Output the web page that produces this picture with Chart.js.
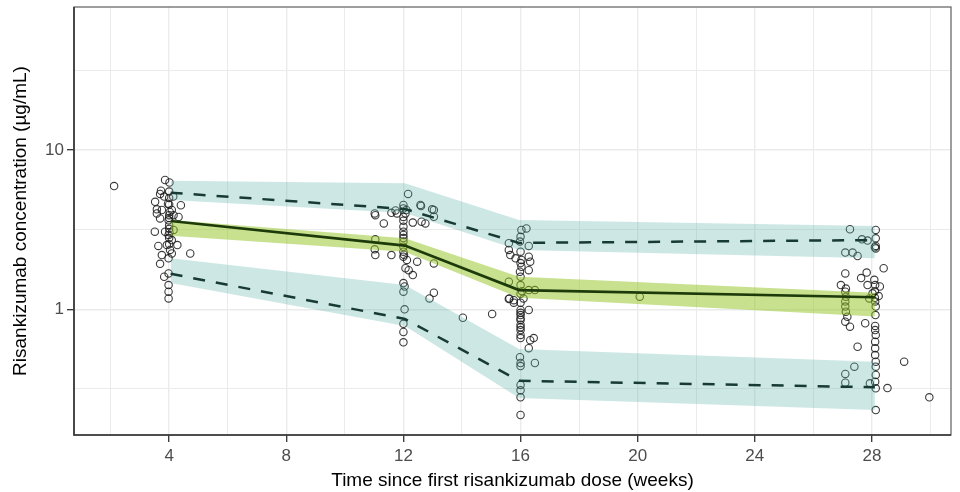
<!DOCTYPE html>
<html><head><meta charset="utf-8">
<script src="https://cdn.jsdelivr.net/npm/chart.js@4.4.1/dist/chart.umd.min.js"></script>
<style>html,body{margin:0;padding:0;background:#fff}canvas{display:block}</style>
</head><body>
<canvas id="c" width="960" height="492"></canvas>
<script>
// ---- Data ----
const binTimes = [4.05, 12.05, 15.95, 28.1];
// 95th percentile: prediction interval band + dashed line
const p95Hi   = [6.42, 6.18, 3.64, 3.33];
const p95Lo   = [4.86, 4.02, 2.36, 2.09];
const p95Line = [5.39, 4.26, 2.61, 2.72];
// median
const medHi   = [3.64, 2.79, 1.60, 1.27];
const medLo   = [2.89, 2.30, 1.18, 0.90];
const medLine = [3.58, 2.51, 1.32, 1.19];
// 5th percentile
const p05Hi   = [2.09, 1.42, 0.563, 0.469];
const p05Lo   = [1.46, 0.786, 0.277, 0.233];
const p05Line = [1.67, 0.87, 0.356, 0.324];

const xTickLabels = [4, 8, 12, 16, 20, 24, 28];
const xMinorGrid  = [2, 6, 10, 14, 18, 22, 26, 30];
const yTickLabels = [1, 10];
const yMinorGrid  = [0.3162, 3.162, 31.62];

// observed concentrations [week, ug/mL]
const obsWeek4 = [
 [3.86,6.48],[4.01,6.25],[3.72,5.55],[4.0,5.48],[3.69,5.3],[3.83,5.1],[3.52,4.73],[4.14,5.1],
 [3.96,4.6],[4.40,4.5],[3.58,4.24],[3.75,4.2],[4.09,4.2],[3.58,4.0],[4.15,3.9],[4.32,3.8],
 [3.69,3.72],[3.98,3.62],[3.51,3.07],[3.86,3.07],[4.15,3.15],[3.98,2.93],[4.09,2.72],[3.63,2.50],
 [3.92,2.53],[4.28,2.53],[4.72,2.24],[3.75,2.19],[4.09,2.24],[3.98,2.09],[4.03,2.36],[3.69,1.93],
 [3.83,1.60],[3.98,1.68],[3.98,1.42],[3.98,1.29],[3.98,1.17],[4.0,5.0],[4.0,4.55],[4.02,4.08],
 [4.0,3.74],[4.0,3.37],[4.01,3.05],[4.0,2.80],[4.0,2.56],[4.0,3.9],[4.0,3.2]
];
const obsWeek12 = [
 [12.16,5.30],[12.0,4.52],[12.6,4.45],[13.04,4.2],[11.02,4.0],[11.04,3.9],[11.59,4.03],[11.78,4.0],
 [12.07,4.0],[13.04,3.81],[11.33,3.46],[12.32,3.5],[12.62,3.55],[12.75,3.46],[12.0,3.30],[12.0,3.07],
 [12.0,2.93],[11.04,2.75],[12.0,2.66],[12.0,2.47],[11.02,2.38],[11.04,2.19],[11.59,2.19],[12.0,2.30],
 [12.0,2.14],[12.12,2.04],[12.47,1.99],[13.04,1.94],[12.07,1.81],[12.18,1.76],[12.32,1.64],[12.0,1.46],
 [12.04,1.39],[12.0,1.29],[13.04,1.27],[12.89,1.17],[12.04,1.0],[12.0,0.81],[12.0,0.72],[12.0,0.62],
 [12.0,3.8],[12.0,3.6],[12.0,2.8],[12.02,2.2],[12.1,4.2],[11.73,4.17],[12.0,4.3],[12.58,4.52],[12.98,4.24]
];
const obsWeek16 = [
 [16.03,3.15],[16.2,3.22],[16.0,2.85],[15.98,2.66],[15.6,2.6],[16.28,2.50],[15.6,2.36],[15.65,2.19],
 [15.83,2.09],[16.03,2.04],[16.28,2.14],[16.33,1.99],[16.03,1.85],[15.98,1.72],[16.28,1.76],[15.6,1.49],
 [16.0,1.42],[16.49,1.32],[16.28,1.32],[15.62,1.17],[15.77,1.14],[16.1,1.17],[16.28,0.99],[16.0,0.99],
 [16.0,0.92],[16.0,0.857],[16.0,0.8],[16.0,0.741],[16.0,0.69],[16.0,0.66],[16.45,0.66],[16.33,0.64],
 [16.28,0.57],[15.98,0.50],[16.49,0.46],[16.0,0.46],[16.0,0.44],[16.0,0.335],[16.0,0.31],[16.0,0.28],
 [16.0,0.217],[16.0,2.3],[16.0,1.95],[16.0,1.6],[16.0,1.25],[16.0,1.1],[16.0,0.95],[16.0,0.88],
 [16.0,0.77],[16.05,1.3],[15.6,1.16],[15.77,1.10]
];
const obsWeek28 = [
 [27.25,3.18],[28.13,3.15],[27.66,2.75],[27.85,2.70],[28.13,2.79],[28.13,2.50],[28.13,2.41],[27.09,2.27],
 [27.34,2.27],[27.51,2.16],[28.4,1.81],[27.09,1.68],[27.82,1.70],[27.63,1.57],[26.94,1.42],[27.11,1.35],
 [27.85,1.42],[28.08,1.53],[28.11,1.42],[28.27,1.39],[28.02,1.26],[28.23,1.21],[27.91,1.17],[27.09,1.29],
 [27.11,1.20],[27.09,1.12],[27.09,1.04],[27.11,0.966],[27.16,0.899],[27.09,0.836],[27.25,0.778],[28.11,1.12],
 [28.13,1.04],[27.77,0.817],[28.11,0.786],[28.11,0.741],[28.13,0.690],[28.11,0.626],[28.11,0.569],[27.51,0.582],
 [28.11,0.516],[28.13,0.469],[28.13,0.436],[27.4,0.436],[27.09,0.393],[27.09,0.346],[28.13,0.387],[28.11,0.351],
 [27.93,0.343],[28.13,0.319],[28.53,0.32],[28.13,0.233],[28.1,1.3],[28.1,1.18],[28.12,0.92],[28.1,2.45]
];
const obsOther = [[2.12,5.94],[14.03,0.885],[15.03,0.934],[20.07,1.2],[29.1,0.469],[29.96,0.28]];

// ---- Helpers ----
const toXY = (ys) => binTimes.map((x, i) => ({x, y: ys[i]}));
const pairsToXY = (arr) => arr.map(p => ({x: p[0], y: p[1]}));
const allObs = [].concat(obsWeek4, obsWeek12, obsWeek16, obsWeek28, obsOther);

const FONT = "'Liberation Sans', Arial, Helvetica, sans-serif";
const TEAL = 'rgba(90,180,165,0.30)';
const GREEN = 'rgba(145,195,30,0.50)';

function lineDs(ys, color, width, dash) {
  return {data: toXY(ys), borderColor: color, borderWidth: width, borderDash: dash || [],
    pointRadius: 0, fill: false, tension: 0, borderCapStyle: 'butt'};
}
function bandDs(ys, fillTarget, color) {
  return {data: toXY(ys), borderWidth: 0, borderColor: 'rgba(0,0,0,0)', pointRadius: 0,
    fill: fillTarget, backgroundColor: color, tension: 0};
}

const panelBorder = {
  id: 'panelBorder',
  afterDatasetsDraw(chart) {
    const {ctx, chartArea: a} = chart;
    ctx.save();
    ctx.strokeStyle = '#6b6b6b';
    ctx.lineWidth = 1.3;
    ctx.strokeRect(a.left, a.top, a.right - a.left, a.bottom - a.top);
    ctx.strokeStyle = '#333333';
    ctx.lineWidth = 1.6;
    ctx.beginPath();
    ctx.moveTo(a.left, a.top);
    ctx.lineTo(a.left, a.bottom);
    ctx.lineTo(a.right, a.bottom);
    ctx.stroke();
    ctx.restore();
  }
};

const isMajorX = v => xTickLabels.includes(v);
const isMajorY = v => yTickLabels.includes(v);

new Chart(document.getElementById('c'), {
  type: 'line',
  data: {
    datasets: [
      lineDs(medLine, '#1d3a0b', 2.6),
      lineDs(p95Line, '#173a33', 2.5, [12, 11]),
      lineDs(p05Line, '#173a33', 2.5, [12, 11]),
      bandDs(medHi, '+1', GREEN),
      bandDs(medLo, false, GREEN),
      bandDs(p95Hi, '+1', TEAL),
      bandDs(p95Lo, false, TEAL),
      bandDs(p05Hi, '+1', TEAL),
      bandDs(p05Lo, false, TEAL),
      {data: pairsToXY(allObs), showLine: false, pointStyle: 'circle', pointRadius: 3.7,
       pointBorderWidth: 1.1, pointBackgroundColor: 'rgba(0,0,0,0)',
       pointBorderColor: 'rgba(25,25,25,0.85)', fill: false}
    ]
  },
  options: {
    responsive: false,
    animation: false,
    devicePixelRatio: 1,
    layout: {padding: {left: 0, right: 9, top: 7, bottom: 0}},
    plugins: {legend: {display: false}, tooltip: {enabled: false}},
    scales: {
      x: {
        type: 'linear', min: 0.75, max: 30.7,
        afterBuildTicks: s => { s.ticks = xMinorGrid.concat(xTickLabels).sort((a,b)=>a-b).map(v => ({value: v})); },
        afterFit: s => { s.height = 57; s.paddingLeft = 0; s.paddingRight = 0; },
        ticks: {autoSkip: false, maxRotation: 0, padding: 4, color: '#4d4d4d',
          font: {family: FONT, size: 17},
          callback: v => isMajorX(v) ? String(v) : ''},
        grid: {
          color: '#ebebeb',
          lineWidth: c => (c.tick && isMajorX(c.tick.value)) ? 1.4 : 1.0,
          tickColor: c => (c.tick && isMajorX(c.tick.value)) ? '#333' : 'rgba(0,0,0,0)',
          tickLength: 7, tickWidth: 1.3
        },
        border: {display: false},
        title: {display: true, text: 'Time since first risankizumab dose (weeks)', color: '#000',
          font: {family: FONT, size: 19}, padding: {top: 0, bottom: 0}}
      },
      y: {
        type: 'logarithmic', min: 0.1625, max: 79,
        afterBuildTicks: s => { s.ticks = yMinorGrid.concat(yTickLabels).sort((a,b)=>a-b).map(v => ({value: v})); },
        afterFit: s => { s.width = 74; s.paddingTop = 0; s.paddingBottom = 0; },
        ticks: {autoSkip: false, padding: 3, color: '#4d4d4d',
          font: {family: FONT, size: 17},
          callback: v => isMajorY(v) ? String(v) : ''},
        grid: {
          color: '#ebebeb',
          lineWidth: c => (c.tick && isMajorY(c.tick.value)) ? 1.4 : 1.0,
          tickColor: c => (c.tick && isMajorY(c.tick.value)) ? '#333' : 'rgba(0,0,0,0)',
          tickLength: 7, tickWidth: 1.3
        },
        border: {display: false},
        title: {display: true, text: 'Risankizumab concentration (µg/mL)', color: '#000',
          font: {family: FONT, size: 19}, padding: {top: 9.5, bottom: 0}}
      }
    }
  },
  plugins: [panelBorder]
});
</script>
</body></html>
